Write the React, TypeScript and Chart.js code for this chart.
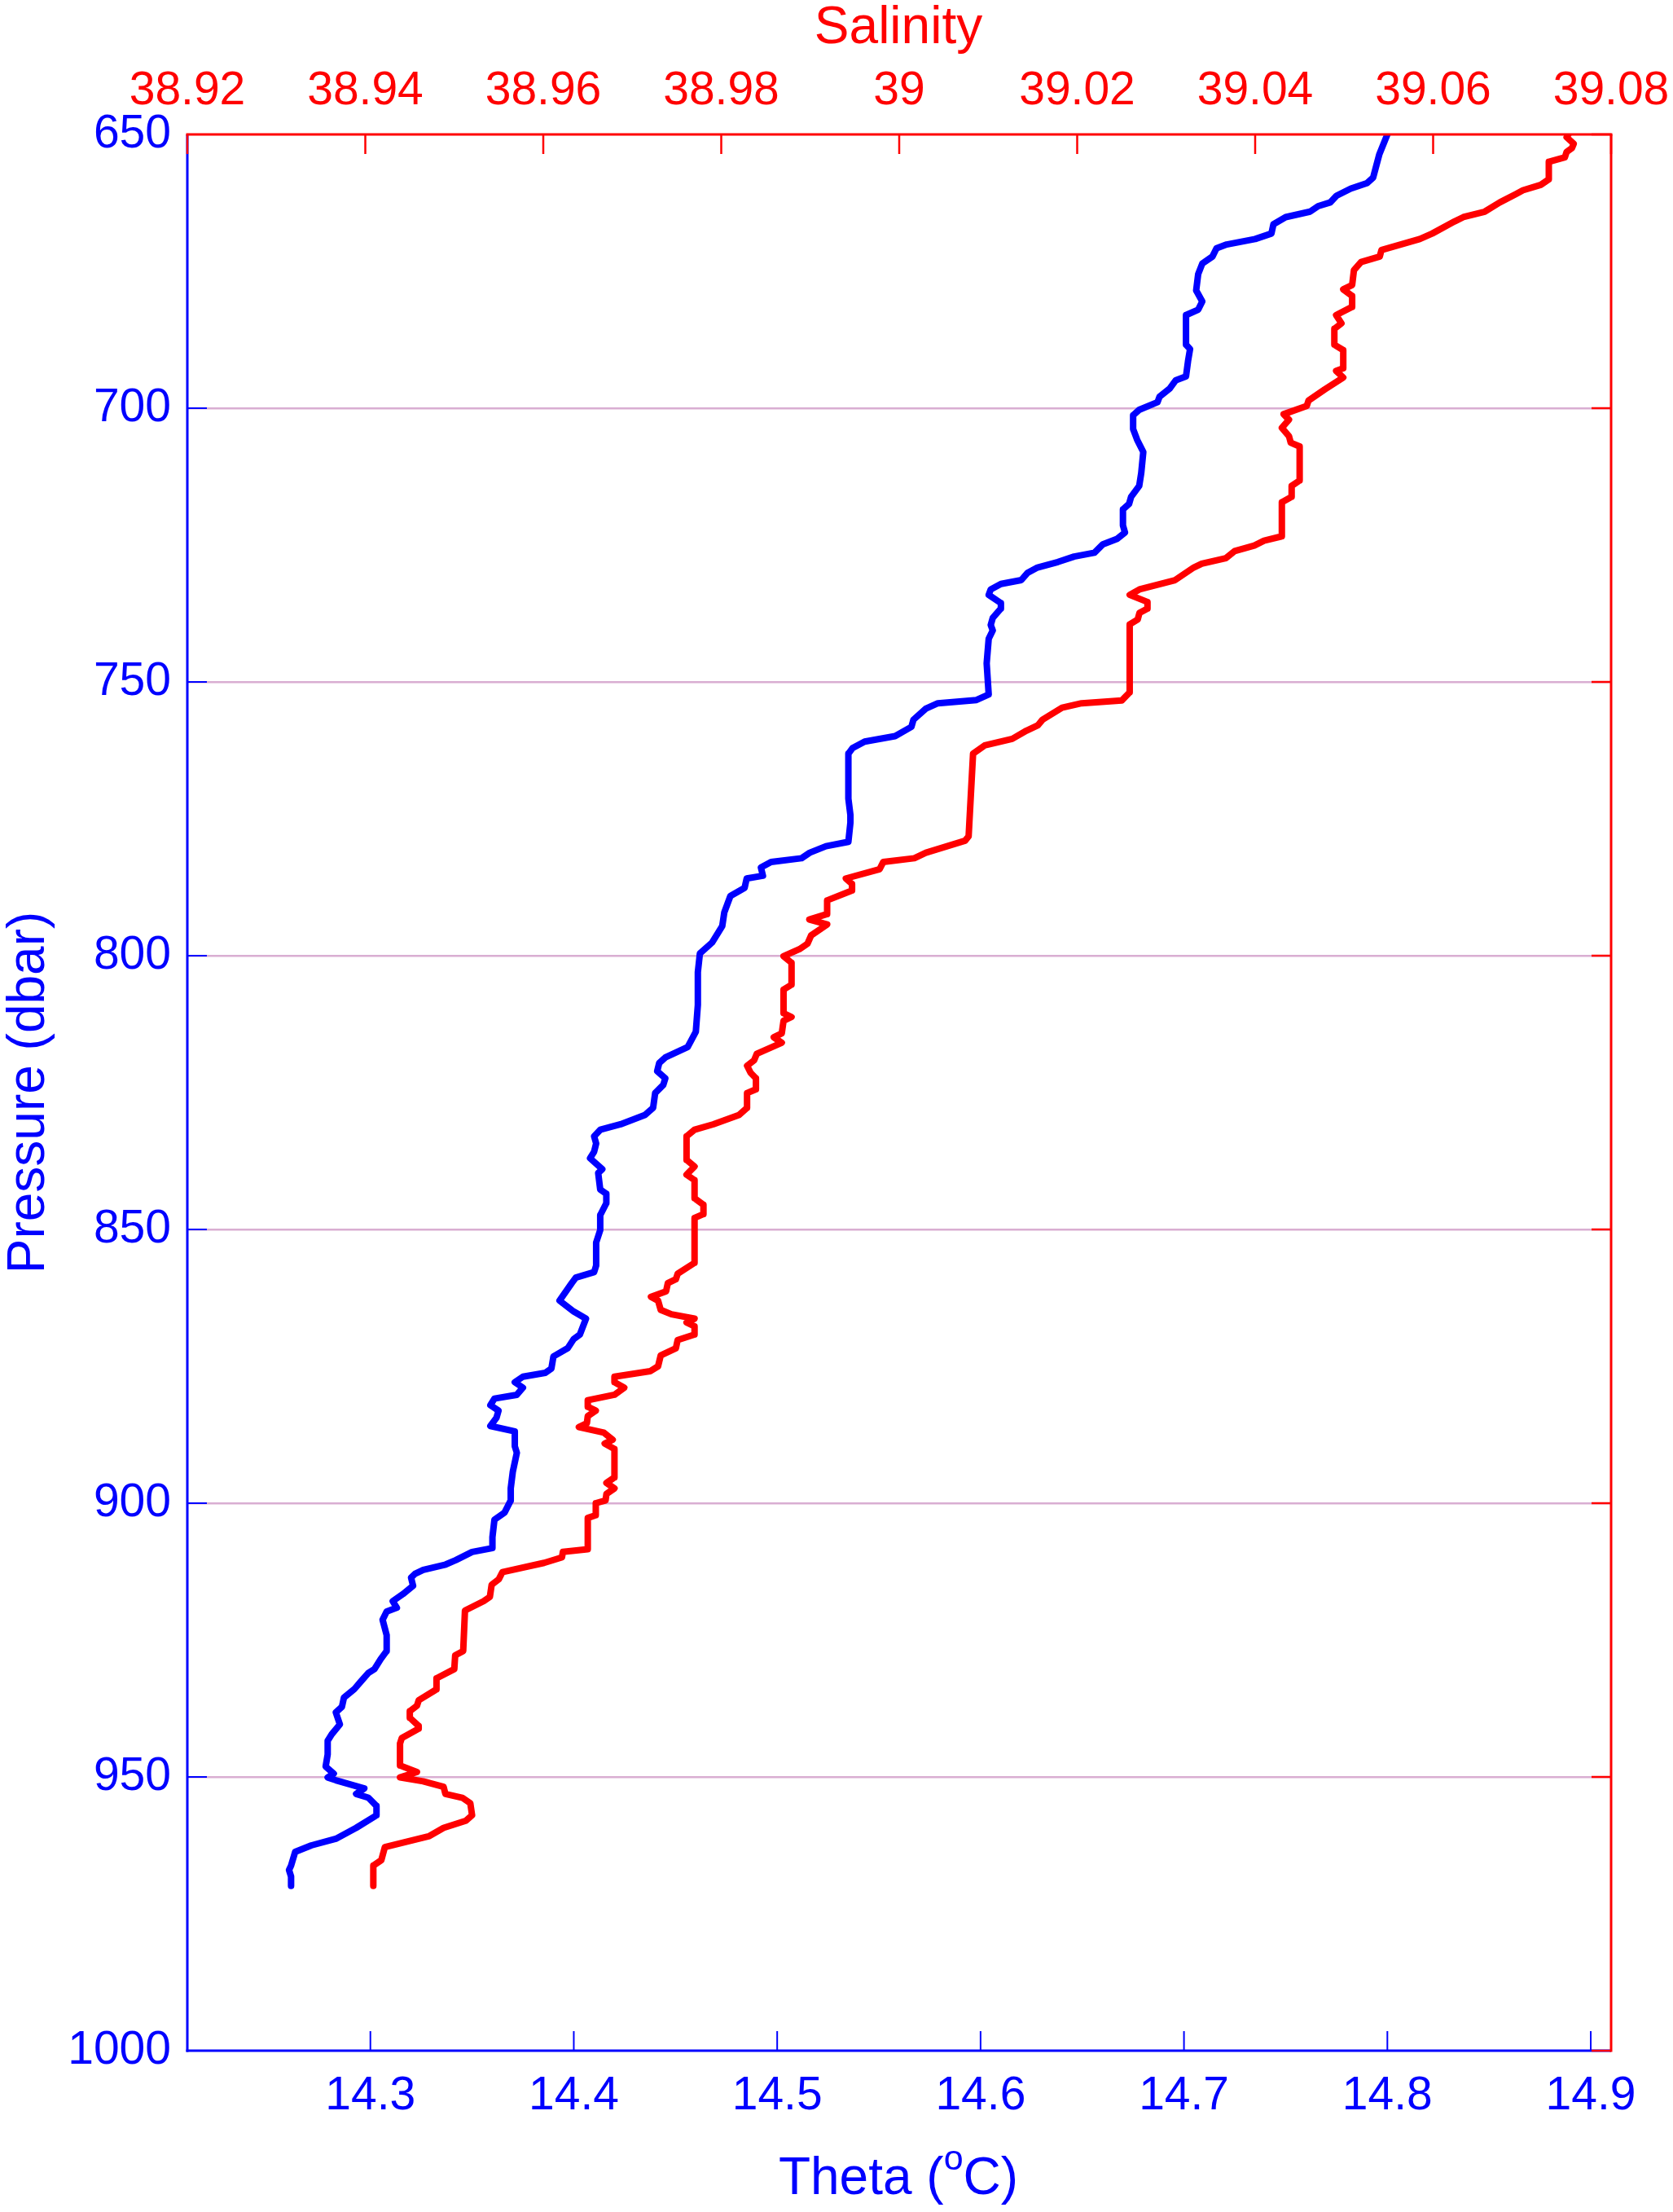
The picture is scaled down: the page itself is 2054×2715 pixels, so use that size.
import React, { useEffect, useRef } from 'react';
import { Chart, registerables } from 'chart.js';

Chart.register(...registerables);

// ---- Tick values ----
const pressureTicks = [650, 700, 750, 800, 850, 900, 950, 1000];
const thetaTicks = [14.3, 14.4, 14.5, 14.6, 14.7, 14.8, 14.9];
const salinityTicks = [38.92, 38.94, 38.96, 38.98, 39.0, 39.02, 39.04, 39.06, 39.08];

// ---- Theta profile (blue, bottom axis) ----
const thetaPressure = [
  650.0, 653.7, 657.9, 658.9, 659.9, 661.2, 662.4, 663.1, 664.1, 665.1, 666.4, 668.1, 669.1, 670.1, 670.8,
  672.3, 673.6, 675.5, 678.5, 680.5, 682.0, 683.0, 688.4, 689.2, 691.4, 694.2, 694.9, 696.4, 697.9, 698.9,
  700.3, 701.3, 703.8, 705.8, 708.0, 711.8, 714.2, 716.2, 717.5, 718.5, 721.4, 722.7, 723.9, 724.9, 726.4,
  727.1, 728.1, 729.1, 730.1, 731.4, 732.1, 733.1, 734.1, 735.6, 736.6, 738.3, 739.6, 740.6, 742.1, 746.6,
  752.3, 753.3, 753.9, 754.9, 756.9, 758.2, 759.9, 760.9, 762.1, 763.1, 771.3, 774.3, 775.7, 779.2, 780.0,
  781.2, 782.2, 782.9, 783.9, 785.4, 785.9, 787.6, 789.1, 792.1, 794.6, 797.6, 799.6, 803.0, 809.0, 813.9,
  816.7, 818.6, 819.6, 821.1, 822.4, 823.6, 825.1, 827.8, 829.1, 830.8, 831.8, 833.0, 834.3, 835.8, 837.0,
  839.0, 839.7, 842.7, 843.5, 845.2, 847.4, 850.1, 852.4, 856.6, 857.8, 858.8, 859.8, 863.0, 865.0, 866.3,
  869.2, 870.0, 871.7, 873.2, 875.4, 876.2, 876.9, 877.9, 878.9, 880.2, 880.9, 882.1, 883.1, 884.4, 885.9,
  886.9, 889.6, 890.8, 894.3, 897.3, 899.5, 901.7, 903.0, 906.2, 908.2, 908.9, 910.4, 911.2, 912.2, 912.9,
  913.6, 915.1, 916.6, 917.9, 919.1, 919.8, 921.3, 924.1, 927.0, 928.5, 930.3, 931.0, 932.7, 934.0, 935.5,
  937.2, 938.2, 940.4, 942.2, 943.4, 945.9, 948.1, 949.4, 950.1, 950.6, 952.1, 953.1, 953.8, 955.3, 957.0,
  959.3, 961.3, 962.5, 963.7, 966.2, 967.0, 968.2, 969.9,
];
const thetaValues = [
  14.800, 14.796, 14.793, 14.790, 14.782, 14.775, 14.772, 14.766, 14.762, 14.750, 14.744, 14.743, 14.735, 14.721, 14.716,
  14.714, 14.709, 14.707, 14.706, 14.709, 14.707, 14.701, 14.701, 14.703, 14.702, 14.701, 14.696, 14.693, 14.688, 14.687,
  14.678, 14.675, 14.675, 14.677, 14.680, 14.679, 14.678, 14.674, 14.673, 14.670, 14.670, 14.671, 14.667, 14.660, 14.656,
  14.646, 14.638, 14.628, 14.623, 14.620, 14.610, 14.605, 14.604, 14.610, 14.610, 14.606, 14.605, 14.606, 14.604, 14.603,
  14.604, 14.598, 14.579, 14.573, 14.567, 14.566, 14.558, 14.543, 14.537, 14.535, 14.535, 14.536, 14.536, 14.535, 14.524,
  14.516, 14.512, 14.497, 14.492, 14.493, 14.485, 14.484, 14.477, 14.474, 14.473, 14.468, 14.462, 14.461, 14.461, 14.460,
  14.456, 14.445, 14.442, 14.441, 14.445, 14.444, 14.440, 14.439, 14.435, 14.423, 14.413, 14.410, 14.411, 14.410, 14.408,
  14.414, 14.412, 14.413, 14.416, 14.416, 14.413, 14.413, 14.411, 14.411, 14.410, 14.401, 14.399, 14.393, 14.400, 14.406,
  14.403, 14.400, 14.397, 14.390, 14.389, 14.386, 14.375, 14.371, 14.375, 14.372, 14.361, 14.359, 14.363, 14.362, 14.359,
  14.371, 14.371, 14.372, 14.370, 14.369, 14.369, 14.366, 14.361, 14.360, 14.360, 14.350, 14.342, 14.337, 14.326, 14.322,
  14.320, 14.321, 14.316, 14.311, 14.313, 14.308, 14.306, 14.308, 14.308, 14.305, 14.302, 14.299, 14.295, 14.292, 14.287,
  14.286, 14.283, 14.285, 14.281, 14.279, 14.279, 14.278, 14.282, 14.279, 14.283, 14.297, 14.293, 14.299, 14.303, 14.303,
  14.293, 14.283, 14.271, 14.263, 14.261, 14.260, 14.261, 14.261,
];

// ---- Salinity profile (red, top axis) ----
const salinityPressure = [
  650.0, 650.5, 651.7, 652.5, 653.2, 654.2, 655.0, 658.2, 659.2, 660.2, 660.9, 662.4, 664.1, 665.1, 665.9,
  668.1, 669.1, 671.1, 672.3, 673.3, 674.8, 677.5, 678.3, 679.5, 681.5, 683.0, 684.5, 685.5, 688.4, 689.4,
  692.7, 693.2, 694.4, 696.6, 698.6, 699.6, 701.1, 702.1, 703.6, 705.1, 706.3, 707.0, 713.2, 714.2, 716.2,
  717.2, 723.4, 724.2, 725.1, 726.1, 727.4, 728.4, 729.1, 731.4, 733.1, 734.1, 735.4, 736.6, 737.4, 738.6,
  739.5, 751.9, 753.4, 753.9, 754.7, 756.9, 757.9, 758.9, 760.4, 761.6, 763.1, 778.2, 779.0, 781.2, 782.2,
  782.9, 784.2, 785.9, 786.9, 788.1, 789.9, 792.4, 793.4, 794.3, 796.3, 797.8, 798.8, 800.1, 801.3, 805.3,
  806.2, 810.5, 811.2, 811.9, 814.2, 814.9, 815.9, 817.9, 819.1, 820.1, 821.4, 822.4, 824.4, 825.1, 827.8,
  829.1, 830.8, 831.8, 833.0, 837.3, 838.5, 840.0, 841.0, 844.3, 845.5, 847.2, 847.9, 856.1, 858.1, 859.1,
  859.8, 861.3, 862.3, 863.0, 864.7, 865.5, 866.3, 867.0, 867.7, 869.2, 870.2, 871.7, 873.0, 875.0, 875.9,
  876.9, 877.9, 878.9, 880.2, 881.2, 882.4, 883.1, 884.1, 885.4, 886.1, 887.1, 888.4, 889.1, 890.1, 895.3,
  896.3, 897.3, 898.3, 899.5, 900.0, 902.2, 902.7, 908.4, 908.9, 909.9, 910.9, 912.6, 913.9, 914.9, 917.1,
  917.9, 919.6, 927.0, 927.8, 930.3, 932.0, 934.0, 936.0, 937.0, 938.0, 939.2, 940.7, 941.2, 942.9, 943.9,
  947.9, 949.1, 950.1, 950.8, 951.8, 953.1, 953.8, 954.8, 957.0, 958.0, 959.3, 960.8, 962.8, 965.2, 966.2,
  969.9,
];
const salinityValues = [
  39.0752, 39.0750, 39.0758, 39.0756, 39.0750, 39.0748, 39.0730, 39.0730, 39.0721, 39.0701, 39.0693, 39.0675, 39.0658, 39.0634, 39.0624,
  39.0599, 39.0585, 39.0542, 39.0540, 39.0519, 39.0511, 39.0509, 39.0499, 39.0509, 39.0509, 39.0491, 39.0497, 39.0489, 39.0489, 39.0499,
  39.0499, 39.0491, 39.0499, 39.0478, 39.0460, 39.0458, 39.0432, 39.0438, 39.0430, 39.0438, 39.0440, 39.0450, 39.0450, 39.0441, 39.0441,
  39.0430, 39.0430, 39.0410, 39.0399, 39.0377, 39.0367, 39.0340, 39.0331, 39.0310, 39.0270, 39.0259, 39.0279, 39.0279, 39.0270, 39.0268,
  39.0259, 39.0259, 39.0250, 39.0205, 39.0183, 39.0161, 39.0156, 39.0143, 39.0127, 39.0096, 39.0083, 39.0078, 39.0074, 39.0030, 39.0017,
  38.9982, 38.9978, 38.9940, 38.9947, 38.9947, 38.9919, 38.9919, 38.9899, 38.9919, 38.9901, 38.9897, 38.9888, 38.9870, 38.9879, 38.9879,
  38.9870, 38.9870, 38.9879, 38.9870, 38.9868, 38.9859, 38.9868, 38.9840, 38.9837, 38.9829, 38.9833, 38.9839, 38.9839, 38.9829, 38.9829,
  38.9820, 38.9791, 38.9770, 38.9761, 38.9761, 38.9770, 38.9761, 38.9770, 38.9770, 38.9780, 38.9780, 38.9770, 38.9770, 38.9751, 38.9749,
  38.9740, 38.9738, 38.9721, 38.9729, 38.9732, 38.9744, 38.9770, 38.9761, 38.9770, 38.9770, 38.9751, 38.9749, 38.9732, 38.9729, 38.9720,
  38.9680, 38.9680, 38.9691, 38.9680, 38.9650, 38.9650, 38.9659, 38.9650, 38.9649, 38.9640, 38.9668, 38.9678, 38.9669, 38.9680, 38.9680,
  38.9671, 38.9680, 38.9671, 38.9670, 38.9659, 38.9659, 38.9650, 38.9650, 38.9622, 38.9621, 38.9601, 38.9554, 38.9550, 38.9542, 38.9540,
  38.9533, 38.9512, 38.9510, 38.9501, 38.9500, 38.9480, 38.9480, 38.9460, 38.9458, 38.9450, 38.9450, 38.9460, 38.9460, 38.9441, 38.9439,
  38.9439, 38.9458, 38.9439, 38.9465, 38.9488, 38.9490, 38.9509, 38.9518, 38.9520, 38.9513, 38.9488, 38.9472, 38.9422, 38.9418, 38.9409,
  38.9409,
];

const BLUE = '#0000ff';
const RED = '#ff0000';
const GRID = '#d9aed2';
const FONT = '"Liberation Sans", Arial, Helvetica, sans-serif';
const TICK_SIZE = 57;
const TITLE_SIZE = 64;

const fmt = (v: number) => String(Number(Number(v).toFixed(2)));

const noEdgePadding = (s: any) => {
  s.paddingLeft = 0;
  s.paddingRight = 0;
  s.paddingTop = 0;
  s.paddingBottom = 0;
};

const framePlugin = {
  id: 'frame',
  afterDraw(chart: any) {
    const { ctx, chartArea, scales } = chart;
    const { left, right, top, bottom } = chartArea;
    const tl = 24;
    const seg = (x1: number, y1: number, x2: number, y2: number) => {
      ctx.beginPath();
      ctx.moveTo(x1, y1);
      ctx.lineTo(x2, y2);
      ctx.stroke();
    };
    ctx.save();
    ctx.lineCap = 'butt';
    // blue axes (left & bottom)
    ctx.strokeStyle = BLUE;
    ctx.lineWidth = 2;
    thetaTicks.forEach((v) => {
      const x = scales.x.getPixelForValue(v);
      seg(x, bottom, x, bottom - tl);
    });
    pressureTicks.forEach((v) => {
      const y = scales.y.getPixelForValue(v);
      seg(left, y, left + tl, y);
    });
    ctx.lineWidth = 3;
    seg(left, top, left, bottom + 1.5);
    seg(left - 1.5, bottom, right, bottom);
    // red axes (top & right)
    ctx.strokeStyle = RED;
    ctx.lineWidth = 2.5;
    salinityTicks.forEach((v) => {
      const x = scales.x2.getPixelForValue(v);
      seg(x, top, x, top + tl);
    });
    pressureTicks.forEach((v) => {
      const y = scales.y.getPixelForValue(v);
      seg(right, y, right - tl, y);
    });
    ctx.lineWidth = 3;
    seg(left - 1.5, top, right + 1.5, top);
    seg(right, top, right, bottom + 1.5);

    // titles
    const cx = (left + right) / 2 - 1;
    ctx.textBaseline = 'alphabetic';
    ctx.font = `${TITLE_SIZE}px ${FONT}`;
    ctx.fillStyle = RED;
    ctx.textAlign = 'center';
    ctx.fillText('Salinity', cx, top - 112);

    ctx.save();
    ctx.translate(left - 176, (top + bottom) / 2);
    ctx.rotate(-Math.PI / 2);
    ctx.fillStyle = BLUE;
    ctx.fillText('Pressure (dbar)', 0, 0);
    ctx.restore();

    const a = 'Theta (';
    const b = 'o';
    const c = 'C)';
    const mainFont = `${TITLE_SIZE}px ${FONT}`;
    const supFont = `${Math.round(TITLE_SIZE * 0.67)}px ${FONT}`;
    ctx.font = mainFont;
    const wa = ctx.measureText(a).width;
    const wc = ctx.measureText(c).width;
    ctx.font = supFont;
    const wb = ctx.measureText(b).width;
    const total = wa + wb + wc;
    let x0 = cx - total / 2;
    const base = bottom + 176;
    ctx.textAlign = 'left';
    ctx.fillStyle = BLUE;
    ctx.font = mainFont;
    ctx.fillText(a, x0, base);
    x0 += wa;
    ctx.font = supFont;
    ctx.fillText(b, x0, base - 30);
    x0 += wb;
    ctx.font = mainFont;
    ctx.fillText(c, x0, base);
    ctx.restore();
  },
};

export default function App() {
  const canvasRef = useRef<HTMLCanvasElement | null>(null);

  useEffect(() => {
    const canvas = canvasRef.current;
    if (!canvas) return;
    const thetaData = thetaPressure.map((p, i) => ({ x: thetaValues[i], y: p }));
    const salinityData = salinityPressure.map((p, i) => ({ x: salinityValues[i], y: p }));
    const tickFont = { family: FONT, size: TICK_SIZE };

    const chart = new Chart(canvas, {
      type: 'scatter',
      data: {
        datasets: [
          {
            label: 'Theta',
            data: thetaData,
            xAxisID: 'x',
            yAxisID: 'y',
            showLine: true,
            borderColor: BLUE,
            backgroundColor: BLUE,
            borderWidth: 8,
            pointRadius: 0,
            pointHoverRadius: 0,
            tension: 0,
            borderJoinStyle: 'round',
            borderCapStyle: 'round',
          },
          {
            label: 'Salinity',
            data: salinityData,
            xAxisID: 'x2',
            yAxisID: 'y',
            showLine: true,
            borderColor: RED,
            backgroundColor: RED,
            borderWidth: 8,
            pointRadius: 0,
            pointHoverRadius: 0,
            tension: 0,
            borderJoinStyle: 'round',
            borderCapStyle: 'round',
          },
        ],
      },
      options: {
        animation: false,
        responsive: false,
        devicePixelRatio: 1,
        events: [],
        layout: { padding: { left: 0, top: 0, right: 76, bottom: 0 } },
        plugins: {
          legend: { display: false },
          tooltip: { enabled: false },
          title: { display: false },
        },
        scales: {
          x: {
            type: 'linear',
            position: 'bottom',
            min: 14.21,
            max: 14.91,
            afterBuildTicks: (s: any) => {
              s.ticks = thetaTicks.map((v) => ({ value: v }));
            },
            afterFit: (s: any) => {
              s.height = 198;
              noEdgePadding(s);
            },
            grid: { display: false, drawTicks: false, tickLength: 0 },
            border: { display: false },
            ticks: {
              color: BLUE,
              font: tickFont,
              padding: 22,
              maxRotation: 0,
              minRotation: 0,
              autoSkip: false,
              callback: (v: any) => fmt(v),
            },
          },
          x2: {
            type: 'linear',
            position: 'top',
            min: 38.92,
            max: 39.08,
            afterBuildTicks: (s: any) => {
              s.ticks = salinityTicks.map((v) => ({ value: v }));
            },
            afterFit: (s: any) => {
              s.height = 165;
              noEdgePadding(s);
            },
            grid: { display: false, drawTicks: false, tickLength: 0 },
            border: { display: false },
            ticks: {
              color: RED,
              font: tickFont,
              padding: 19,
              maxRotation: 0,
              minRotation: 0,
              autoSkip: false,
              callback: (v: any) => fmt(v),
            },
          },
          y: {
            type: 'linear',
            position: 'left',
            reverse: true,
            min: 650,
            max: 1000,
            afterBuildTicks: (s: any) => {
              s.ticks = pressureTicks.map((v) => ({ value: v }));
            },
            afterFit: (s: any) => {
              s.width = 230;
              noEdgePadding(s);
            },
            grid: {
              drawTicks: false,
              tickLength: 0,
              lineWidth: 2.5,
              color: (ctx: any) =>
                ctx.tick && (ctx.tick.value === 650 || ctx.tick.value === 1000)
                  ? 'rgba(0,0,0,0)'
                  : GRID,
            },
            border: { display: false },
            ticks: {
              color: BLUE,
              font: tickFont,
              padding: 20,
              autoSkip: false,
              callback: (v: any) => fmt(v),
            },
          },
        },
      },
      plugins: [framePlugin],
    } as any);

    return () => chart.destroy();
  }, []);

  return (
    <canvas
      ref={canvasRef}
      width={2054}
      height={2715}
      style={{ position: 'absolute', left: 0, top: 0, display: 'block', background: '#ffffff' }}
    />
  );
}
